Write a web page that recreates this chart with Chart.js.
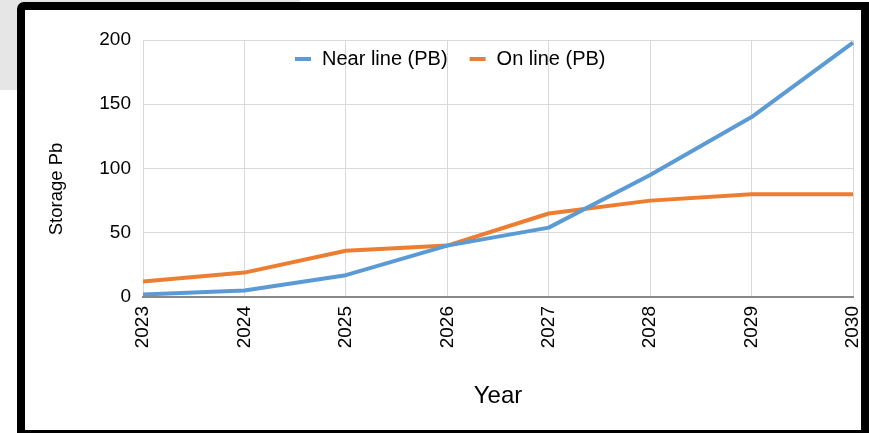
<!DOCTYPE html>
<html>
<head>
<meta charset="utf-8">
<script src="https://cdn.jsdelivr.net/npm/chart.js@4/dist/chart.umd.min.js"></script>
<style>
  html, body { margin: 0; padding: 0; background: #ffffff; }
  body { width: 869px; height: 433px; position: relative; overflow: hidden; }
  #shade { position: absolute; left: 0; top: 0; width: 300px; height: 90px; background: #e6e6e6; }
  #frame {
    position: absolute; left: 17px; top: 2px; width: 836px; height: 420px;
    border: 8px solid #000; border-top-left-radius: 7px; background: #fff;
  }
  #wrap { position: absolute; left: 25px; top: 10px; width: 836px; height: 418px; }
</style>
</head>
<body>
<div id="shade"></div>
<div id="frame"></div>
<div id="wrap"><canvas id="chart"></canvas></div>
<script>
// Projected storage by year, in petabytes
const years = ['2023', '2024', '2025', '2026', '2027', '2028', '2029', '2030'];
const nearLine = [2, 5, 17, 40, 54, 95, 140, 198];
const onLine = [12, 19, 36, 40, 65, 75, 80, 80];
const yTicks = [0, 50, 100, 150, 200];
const seriesNames = ['Near line (PB)', 'On line (PB)'];
const seriesColors = ['#5b9bd5', '#ed7d31'];

const FONT = "'Liberation Sans', Arial, sans-serif";

// Legend drawn over the top of the plot area
const overlayLegend = {
  id: 'overlayLegend',
  afterDraw(chart) {
    const ctx = chart.ctx;
    ctx.save();
    ctx.font = '20px ' + FONT;
    ctx.textBaseline = 'middle';
    const y = 49;
    let x = 270;
    chart.data.datasets.forEach((ds) => {
      ctx.fillStyle = ds.borderColor;
      ctx.fillRect(x, y - 2, 16, 4);
      ctx.fillStyle = '#000';
      ctx.fillText(ds.label, x + 27, y);
      x += 27 + ctx.measureText(ds.label).width + 22;
    });
    ctx.restore();
  }
};

// Rotated y axis title
const yTitle = {
  id: 'yTitle',
  afterDraw(chart) {
    const ctx = chart.ctx;
    ctx.save();
    ctx.font = '18.5px ' + FONT;
    ctx.fillStyle = '#000';
    ctx.textAlign = 'center';
    ctx.textBaseline = 'middle';
    ctx.translate(32, 179);
    ctx.rotate(-Math.PI / 2);
    ctx.fillText('Storage Pb', 0, 0);
    ctx.restore();
  }
};

new Chart(document.getElementById('chart'), {
  type: 'line',
  data: {
    labels: years,
    datasets: [
      { label: seriesNames[0], data: nearLine, borderColor: seriesColors[0], backgroundColor: seriesColors[0] },
      { label: seriesNames[1], data: onLine, borderColor: seriesColors[1], backgroundColor: seriesColors[1] }
    ]
  },
  options: {
    responsive: true,
    maintainAspectRatio: false,
    animation: false,
    devicePixelRatio: 1,
    layout: { padding: { top: 30, right: 8, left: 0, bottom: 0 } },
    elements: {
      line: { borderWidth: 4, tension: 0, borderCapStyle: 'butt', borderJoinStyle: 'round' },
      point: { radius: 0, hoverRadius: 0 }
    },
    plugins: {
      legend: { display: false },
      tooltip: { enabled: false }
    },
    scales: {
      x: {
        type: 'category',
        offset: false,
        grid: { color: '#d9d9d9', lineWidth: 1, drawTicks: false },
        border: { display: true, color: '#888888', width: 2 },
        ticks: {
          color: '#000',
          font: { family: FONT, size: 19 },
          minRotation: 90, maxRotation: 90,
          padding: 9,
          autoSkip: false
        },
        title: {
          display: true, text: 'Year', color: '#000',
          font: { family: FONT, size: 24 },
          padding: { top: 0, bottom: 17 }
        },
        afterFit(scale) {
          scale.height = 131;
          scale.paddingLeft = 0;
          scale.paddingRight = 0;
        }
      },
      y: {
        min: 0, max: 200,
        afterBuildTicks(scale) { scale.ticks = yTicks.map(v => ({ value: v })); },
        grid: { color: '#d9d9d9', lineWidth: 1, drawTicks: false },
        border: { display: false },
        ticks: {
          color: '#000',
          font: { family: FONT, size: 19 },
          padding: 12
        },
        afterFit(scale) { scale.width = 118; }
      }
    }
  },
  plugins: [overlayLegend, yTitle]
});
</script>
</body>
</html>
